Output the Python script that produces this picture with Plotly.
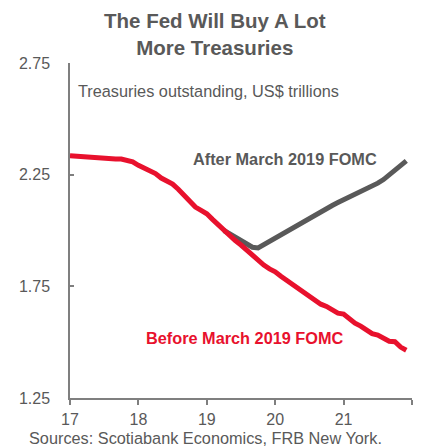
import plotly.graph_objects as go

# Monthly, Jan 2017 .. Dec 2021 (x in years, 17 = 2017)
months = list(range(60))
before_vals = [2.335, 2.333, 2.330, 2.327, 2.324, 2.323, 2.322, 2.321, 2.320, 2.320,
               2.315, 2.307, 2.292, 2.280, 2.270, 2.255, 2.235, 2.222, 2.208, 2.185,
               2.160, 2.128, 2.105, 2.090, 2.075, 2.050, 2.025, 2.000, 1.975, 1.955,
               1.935, 1.911, 1.890, 1.868, 1.845, 1.828, 1.815, 1.795, 1.777, 1.762,
               1.740, 1.722, 1.705, 1.686, 1.670, 1.660, 1.645, 1.630, 1.626, 1.605,
               1.585, 1.572, 1.552, 1.538, 1.532, 1.515, 1.504, 1.502, 1.478, 1.464]
after_start = 27
after_vals = [2.000, 1.985, 1.970, 1.955, 1.940, 1.925, 1.922, 1.937, 1.952, 1.965,
              1.980, 1.995, 2.012, 2.027, 2.042, 2.057, 2.072, 2.088, 2.100, 2.112,
              2.125, 2.137, 2.150, 2.162, 2.175, 2.187, 2.200, 2.212, 2.228, 2.250,
              2.272, 2.292, 2.312]
x_ticks = [17, 18, 19, 20, 21, 22]
x_tick_text = ["17", "18", "19", "20", "21", ""]
y_ticks = [1.25, 1.75, 2.25, 2.75]

RED = "#e8112d"
GRAY = "#595959"
FONT = "Liberation Sans, Arial, sans-serif"

x_before = [17 + m / 12 for m in months]
x_after = [17 + m / 12 for m in months[after_start:]]

fig = go.Figure()
fig.add_trace(go.Scatter(x=x_after, y=after_vals, mode="lines",
                         line=dict(color=GRAY, width=5), hoverinfo="skip"))
fig.add_trace(go.Scatter(x=x_before, y=before_vals, mode="lines",
                         line=dict(color=RED, width=5), hoverinfo="skip"))

W, H = 421, 448
L, R, T, B = 70, 9, 63, 50
ph = H - T - B

def py(ypx):
    return (H - B - ypx) / ph

def px(xpx):
    return (xpx - L) / (W - L - R)

fig.update_layout(
    width=W, height=H,
    margin=dict(l=L, r=R, t=T, b=B),
    paper_bgcolor="white", plot_bgcolor="white",
    showlegend=False,
    font=dict(family=FONT, color=GRAY, size=16),
)
fig.update_xaxes(range=[17, 22], tickvals=x_ticks, ticktext=x_tick_text,
                 showgrid=False, zeroline=False, showline=True,
                 linecolor="#7f7f7f", linewidth=1.5,
                 ticks="outside", ticklen=5, tickcolor="#7f7f7f", tickwidth=1.5,
                 tickfont=dict(size=16, color=GRAY), ticklabelstandoff=1)
fig.update_yaxes(range=[1.25, 2.75], tickvals=y_ticks,
                 tickformat=".2f",
                 showgrid=False, zeroline=False, showline=True,
                 linecolor="#7f7f7f", linewidth=1.5,
                 ticks="inside", ticklen=4, tickcolor="#7f7f7f", tickwidth=1.5,
                 tickfont=dict(size=16, color=GRAY), ticklabelstandoff=15)

ann = [
    dict(text="<b>The Fed Will Buy A Lot<br>More Treasuries</b>", x=px(215), y=py(34.5), size=20.5,
         color=GRAY, xanchor="center", yanchor="middle"),
    dict(text="Treasuries outstanding, US$ trillions", x=px(77), y=py(91), size=16.3, color=GRAY,
         xanchor="left", yanchor="middle"),
    dict(text="<b>After March 2019 FOMC</b>", x=px(192), y=py(159), size=16.3, color=GRAY,
         xanchor="left", yanchor="middle"),
    dict(text="<b>Before March 2019 FOMC</b>", x=px(145), y=py(338), size=16.3, color=RED,
         xanchor="left", yanchor="middle"),
    dict(text="Sources: Scotiabank Economics, FRB New York.", x=px(28), y=py(448), size=16.3, color=GRAY,
         xanchor="left", yanchor="bottom"),
]
for a in ann:
    fig.add_annotation(text=a["text"], x=a["x"], y=a["y"], xref="paper", yref="paper",
                       xanchor=a["xanchor"], yanchor=a["yanchor"], showarrow=False, borderpad=0,
                       font=dict(family=FONT, size=a["size"], color=a["color"]))

fig.write_html("out.html")
